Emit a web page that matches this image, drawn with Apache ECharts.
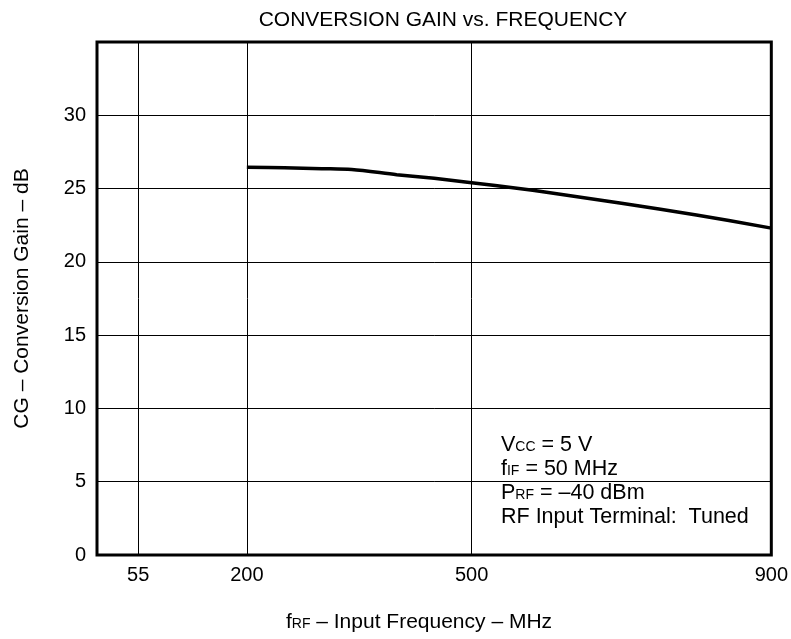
<!DOCTYPE html>
<html>
<head>
<meta charset="utf-8">
<script src="https://cdn.jsdelivr.net/npm/echarts@6/dist/echarts.min.js"></script>
<style>
  html, body { margin: 0; padding: 0; background: #fff; }
  #chart { width: 791px; height: 639px; }
</style>
</head>
<body>
<div id="chart"></div>
<script>
// values
const freqMHz = [200, 250, 300, 340, 400, 450, 500, 563, 600, 700, 800, 900]
const gainDb = [26.45, 26.42, 26.36, 26.3, 25.95, 25.7, 25.4, 25.0, 24.75, 24.0, 23.2, 22.3]
const xTickValues = [55, 200, 500, 900]

const chart = echarts.init(document.getElementById('chart'))
const font = 'Liberation Sans, Arial, Helvetica, sans-serif'
const main = { fontSize: 21, fontFamily: font, color: '#000' }
const sub = { fontSize: 14, fontFamily: font, color: '#000', verticalAlign: 'middle', padding: [4, 0, 0, 0] }

const option = {
  backgroundColor: '#fff',
  animation: false,
  title: {
    text: 'CONVERSION GAIN vs. FREQUENCY',
    left: 438,
    textAlign: 'center',
    top: 5,
    textStyle: { fontFamily: font, fontSize: 21, fontWeight: 'normal', color: '#000' }
  },
  grid: {
    left: 97, right: 17, top: 42, bottom: 84,
    show: true, borderColor: '#000', borderWidth: 3, backgroundColor: 'transparent'
  },
  xAxis: {
    type: 'value',
    min: 0,
    max: 900,
    axisLine: { show: false },
    axisTick: { show: false, customValues: xTickValues },
    axisLabel: { customValues: xTickValues, margin: 10, fontFamily: font, fontSize: 20, color: '#000' },
    splitLine: { show: true, lineStyle: { color: '#000', width: 1 } }
  },
  yAxis: {
    type: 'value',
    min: 0,
    max: 35,
    interval: 5,
    name: 'CG – Conversion Gain – dB',
    nameLocation: 'middle',
    nameGap: 64,
    nameTextStyle: { fontFamily: font, fontSize: 21, color: '#000' },
    axisLine: { show: false },
    axisTick: { show: false },
    axisLabel: {
      margin: 11, fontFamily: font, fontSize: 20, color: '#000',
      formatter: v => (v === 35 ? '' : String(v))
    },
    splitLine: { show: true, lineStyle: { color: '#000', width: 1 } }
  },
  series: [{
    type: 'line',
    data: freqMHz.map((f, i) => [f, gainDb[i]]),
    smooth: 0.3,
    symbol: 'none',
    lineStyle: { color: '#000', width: 3.5 }
  }],
  graphic: [{
    type: 'text',
    left: 501,
    top: 433,
    style: {
      text: '{m|V}{s|CC}{m| = 5 V}\n{m|f}{s|IF}{m| = 50 MHz}\n{m|P}{s|RF}{m| = –40 dBm}\n{m|RF Input Terminal:  Tuned}',
      lineHeight: 24,
      rich: { m: Object.assign({ lineHeight: 24 }, main, { fontSize: 21.5 }), s: sub }
    }
  }, {
    type: 'text',
    x: 419,
    y: 622,
    style: {
      text: '{m|f}{s|RF}{m| – Input Frequency – MHz}',
      align: 'center',
      verticalAlign: 'middle',
      rich: { m: main, s: sub }
    }
  }]
}

chart.setOption(option)
</script>
</body>
</html>
